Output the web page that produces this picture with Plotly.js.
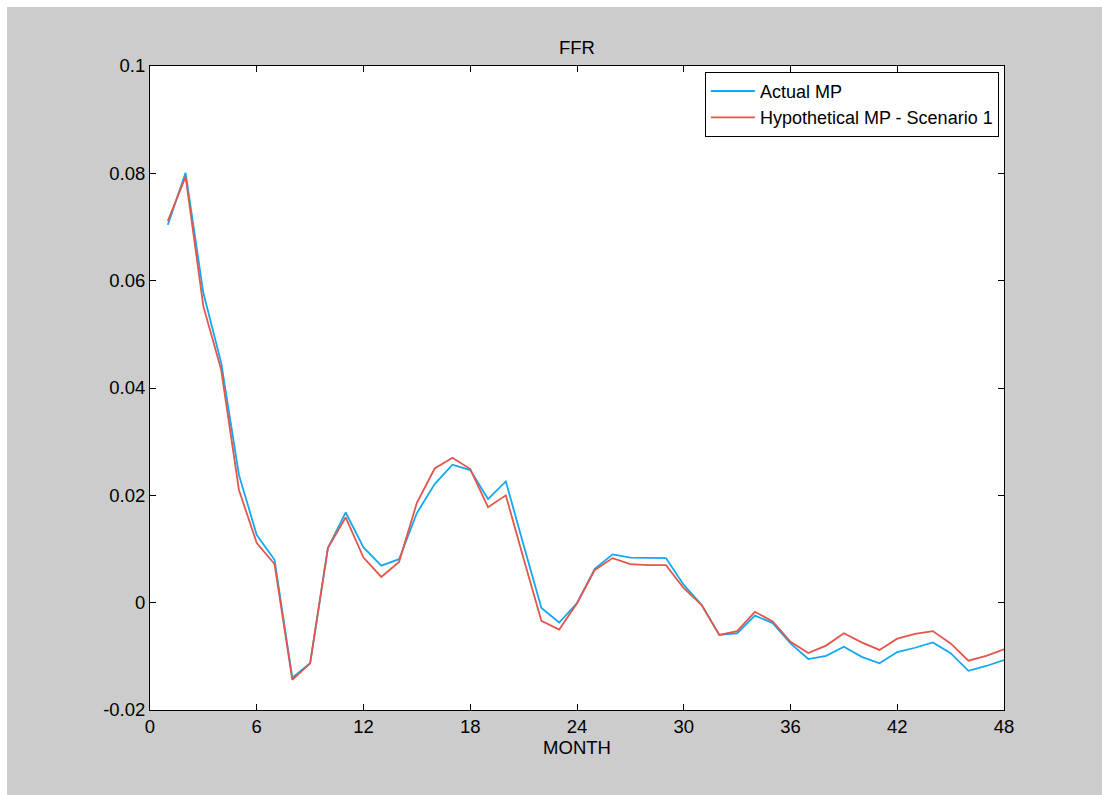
<!DOCTYPE html>
<html>
<head>
<meta charset="utf-8">
<script src="https://cdn.plot.ly/plotly-3.0.1.min.js"></script>
<style>
html,body{margin:0;padding:0;background:#cccccc;overflow:hidden;}
#topstrip{position:absolute;left:0;top:0;width:1102px;height:7px;background:#ffffff;}
#leftstrip{position:absolute;left:0;top:0;width:7px;height:795px;background:#ffffff;}
#chart{position:absolute;left:7px;top:7px;width:1095px;height:788px;}
</style>
</head>
<body>
<div id="topstrip"></div>
<div id="leftstrip"></div>
<div id="chart"></div>
<script>
const months = [1,2,3,4,5,6,7,8,9,10,11,12,13,14,15,16,17,18,19,20,21,22,23,24,25,26,27,28,29,30,31,32,33,34,35,36,37,38,39,40,41,42,43,44,45,46,47,48];
const actualMP = [0.0704,0.0801,0.0577,0.0447,0.0238,0.0126,0.0080,-0.0140,-0.0113,0.0102,0.0168,0.0103,0.0069,0.0081,0.0167,0.0221,0.0257,0.0247,0.0193,0.0226,0.0107,-0.0010,-0.0037,-0.0001,0.0063,0.0090,0.0084,0.0084,0.0083,0.0033,-0.0004,-0.0060,-0.0057,-0.0024,-0.0038,-0.0076,-0.0105,-0.0099,-0.0082,-0.0101,-0.0113,-0.0092,-0.0084,-0.0074,-0.0094,-0.0127,-0.0118,-0.0107];
const hypotheticalMP = [0.0711,0.0794,0.0552,0.0434,0.0210,0.0111,0.0072,-0.0144,-0.0113,0.0102,0.0159,0.0084,0.0048,0.0076,0.0186,0.0250,0.0270,0.0249,0.0178,0.0200,0.0082,-0.0034,-0.0050,-0.0001,0.0061,0.0083,0.0072,0.0070,0.0070,0.0027,-0.0004,-0.0060,-0.0053,-0.0017,-0.0035,-0.0073,-0.0094,-0.0080,-0.0057,-0.0074,-0.0088,-0.0067,-0.0058,-0.0053,-0.0076,-0.0108,-0.0099,-0.0087];
const seriesNames = ["Actual MP", "Hypothetical MP - Scenario 1"];
const xTickVals = [0,6,12,18,24,30,36,42,48];
const xTickText = ["0","6","12","18","24","30","36","42","48"];
const yTickVals = [-0.02,0,0.02,0.04,0.06,0.08,0.1];
const yTickText = ["-0.02","0","0.02","0.04","0.06","0.08","0.1"];
const chartTitle = "FFR";
const xTitle = "MONTH";

const font = {family: "Liberation Sans, Arial, sans-serif", size: 18.5, color: "#000000"};

const traces = [
  {x: months, y: actualMP, name: seriesNames[0], type: "scatter", mode: "lines",
   line: {color: "#14a8f2", width: 1.8}},
  {x: months, y: hypotheticalMP, name: seriesNames[1], type: "scatter", mode: "lines",
   line: {color: "#e2564c", width: 1.8}}
];

const axisCommon = {
  showgrid: false, zeroline: false, showline: true, mirror: "ticks",
  linecolor: "#000000", linewidth: 1, ticks: "inside", ticklen: 6,
  tickcolor: "#000000", tickwidth: 1, tickfont: font, tickmode: "array"
};

const layout = {
  width: 1095, height: 788,
  paper_bgcolor: "#cccccc", plot_bgcolor: "#ffffff",
  font: font,
  margin: {l: 143, r: 98, t: 59, b: 85},
  title: {text: chartTitle, font: font, x: 0.5, xref: "paper", y: 1, yref: "paper", yanchor: "bottom", pad: {b: 12}},
  xaxis: Object.assign({}, axisCommon, {
    range: [0, 48], tickvals: xTickVals, ticktext: xTickText,
    title: {text: xTitle, font: font, standoff: 0}
  }),
  yaxis: Object.assign({}, axisCommon, {
    range: [-0.02, 0.1], tickvals: yTickVals, ticktext: yTickText
  }),
  showlegend: true,
  legend: {
    x: 0.994, y: 0.991, xanchor: "right", yanchor: "top",
    bgcolor: "#ffffff", bordercolor: "#000000", borderwidth: 1,
    font: {family: font.family, size: 18, color: "#000000"},
    tracegroupgap: 0, itemwidth: 44, entrywidth: 260
  }
};

Plotly.newPlot("chart", traces, layout, {displayModeBar: false, staticPlot: true});
</script>
</body>
</html>
